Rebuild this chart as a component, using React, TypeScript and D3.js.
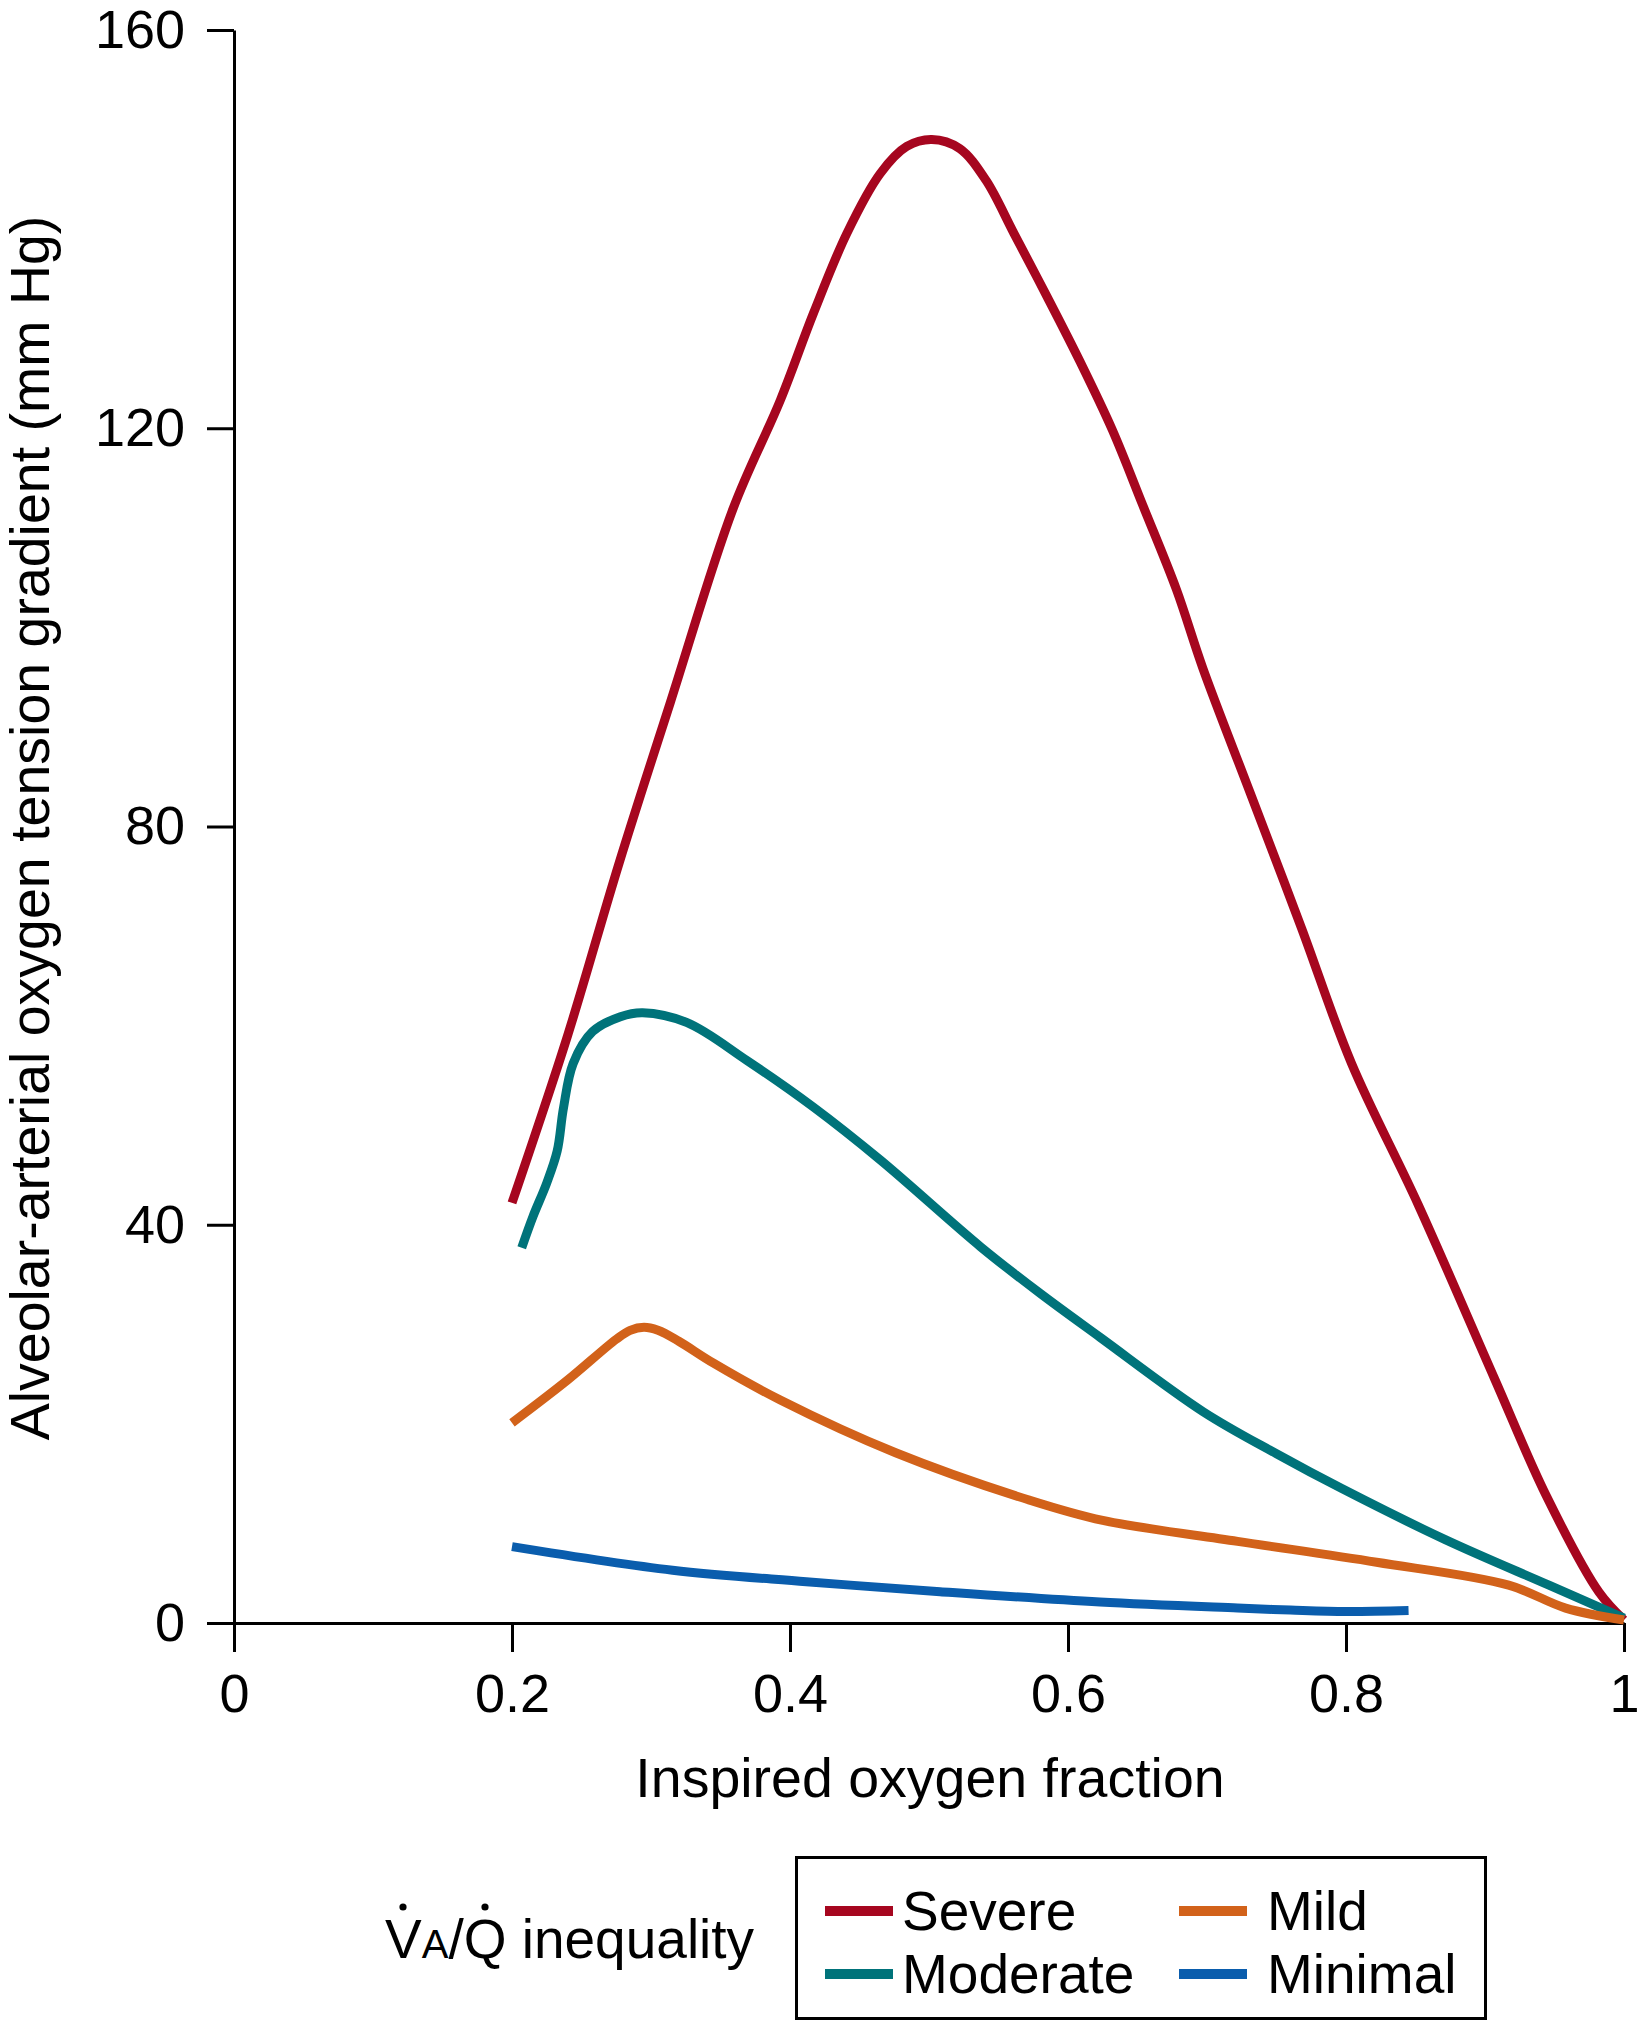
import React, { useEffect, useRef } from "react";
import * as d3 from "d3";

const xTicks = [0, 0.2, 0.4, 0.6, 0.8, 1];
const yTicks = [0, 40, 80, 120, 160];

const severeX = [0.2, 0.24, 0.277, 0.314, 0.359, 0.393, 0.417, 0.441, 0.465, 0.484, 0.502, 0.522, 0.541, 0.561, 0.585, 0.609, 0.632, 0.654, 0.678, 0.697, 0.731, 0.768, 0.804, 0.852, 0.907, 0.944, 0.982, 1.0];
const severeY = [42.2, 59, 76.3, 92.5, 111.9, 122.8, 131.6, 139.6, 145.6, 148.3, 149, 148.1, 144.9, 139.6, 133.2, 126.6, 119.8, 112.2, 103.8, 95.9, 83.4, 69.8, 56.2, 42, 24.5, 12.8, 3.1, 0.3];

const moderateX = [0.207, 0.215, 0.225, 0.2325, 0.237, 0.244, 0.258, 0.278, 0.294, 0.326, 0.369, 0.417, 0.465, 0.537, 0.58, 0.623, 0.6975, 0.75, 0.797, 0.871, 0.946, 1.0];
const moderateY = [37.7, 40.8, 44.2, 47.4, 51.7, 56.2, 59.4, 60.9, 61.3, 60.3, 56.5, 51.8, 46.5, 37.8, 33.1, 28.7, 21.2, 17.0, 13.5, 8.4, 3.8, 0.5];

const mildX = [0.2, 0.24, 0.275, 0.285, 0.295, 0.305, 0.32, 0.345, 0.393, 0.476, 0.572, 0.625, 0.722, 0.822, 0.917, 0.958, 1.0];
const mildY = [20.1, 24.4, 28.5, 29.4, 29.7, 29.4, 28.3, 26.1, 22.4, 17.1, 12.35, 10.3, 8.2, 6.1, 3.8, 1.5, 0.3];

const minimalX = [0.2, 0.3155, 0.4117, 0.508, 0.623, 0.722, 0.76, 0.8, 0.845];
const minimalY = [7.67, 5.3, 4.15, 3.15, 2.1, 1.5, 1.3, 1.15, 1.25];

const seriesNames = ["Severe", "Moderate", "Mild", "Minimal"];
const seriesColors = ["#A6061F", "#00737A", "#D2621A", "#0A5DAD"];

const FONT = "'Liberation Sans', Arial, Helvetica, sans-serif";

export default function App() {
  const W = 1641, H = 2022;
  const x = d3.scaleLinear().domain([0, 1]).range([234, 1624]);
  const y = d3.scaleLinear().domain([0, 160]).range([1623, 30]);
  const xRef = useRef<SVGGElement>(null);
  const yRef = useRef<SVGGElement>(null);

  useEffect(() => {
    const gx = d3.select(xRef.current);
    gx.selectAll("*").remove();
    gx.call(
      d3.axisBottom(x).tickValues(xTicks).tickSize(29).tickSizeOuter(0).tickPadding(22).tickFormat((d: any) => String(d))
    );
    const gy = d3.select(yRef.current);
    gy.selectAll("*").remove();
    gy.call(
      d3.axisLeft(y).tickValues(yTicks).tickSize(27).tickSizeOuter(0).tickPadding(22).tickFormat((d: any) => String(d))
    );
    [gx, gy].forEach((g) => {
      g.attr("font-family", FONT).attr("font-size", 54);
      g.selectAll("path.domain").attr("stroke", "#000").attr("stroke-width", 3);
      g.selectAll(".tick line").attr("stroke", "#000").attr("stroke-width", 3);
      g.selectAll(".tick text").attr("fill", "#000");
    });
  }, []);

  const line = d3
    .line<[number, number]>()
    .x((d) => x(d[0]))
    .y((d) => y(d[1]))
    .curve(d3.curveCatmullRom.alpha(0.5));

  const series = [
    { xs: severeX, ys: severeY },
    { xs: moderateX, ys: moderateY },
    { xs: mildX, ys: mildY },
    { xs: minimalX, ys: minimalY },
  ];

  const legendPos = [
    { lx: 825, tx: 902, ty: 1911 },
    { lx: 825, tx: 902, ty: 1974 },
    { lx: 1179, tx: 1267, ty: 1911 },
    { lx: 1179, tx: 1267, ty: 1974 },
  ];

  return (
    <svg width={W} height={H} style={{ position: "absolute", left: 0, top: 0, background: "#fff" }}>
      <rect x={0} y={0} width={W} height={H} fill="#fff" />
      <g ref={xRef} transform={`translate(0,${y(0)})`} />
      <g ref={yRef} transform={`translate(${x(0)},0)`} />
      {series.map((s, i) => (
        <path
          key={seriesNames[i]}
          d={line(s.xs.map((v, j) => [v, s.ys[j]] as [number, number])) || ""}
          fill="none"
          stroke={seriesColors[i]}
          strokeWidth={9}
          strokeLinejoin="round"
        />
      ))}
      <text
        transform="translate(49,828) rotate(-90)"
        textAnchor="middle"
        fontFamily={FONT}
        fontSize={55.5}
        fill="#000"
      >
        Alveolar-arterial oxygen tension gradient (mm Hg)
      </text>
      <text x={930} y={1797} textAnchor="middle" fontFamily={FONT} fontSize={55.5} fill="#000">
        Inspired oxygen fraction
      </text>
      <text x={385} y={1958} fontFamily={FONT} fontSize={55} fill="#000">
        <tspan>V</tspan>
        <tspan fontSize={40}>A</tspan>
        <tspan>/Q inequality</tspan>
      </text>
      <circle cx={403} cy={1907} r={3.6} fill="#000" />
      <circle cx={485} cy={1907} r={3.6} fill="#000" />
      <rect x={796.5} y={1857.5} width={689} height={161} fill="none" stroke="#000" strokeWidth={3} />
      {seriesNames.map((n, i) => (
        <g key={n}>
          <line
            x1={legendPos[i].lx}
            x2={legendPos[i].lx + 68}
            y1={legendPos[i].ty}
            y2={legendPos[i].ty}
            stroke={seriesColors[i]}
            strokeWidth={10}
          />
          <text x={legendPos[i].tx} y={legendPos[i].ty + 19} fontFamily={FONT} fontSize={55} fill="#000">
            {n}
          </text>
        </g>
      ))}
    </svg>
  );
}
